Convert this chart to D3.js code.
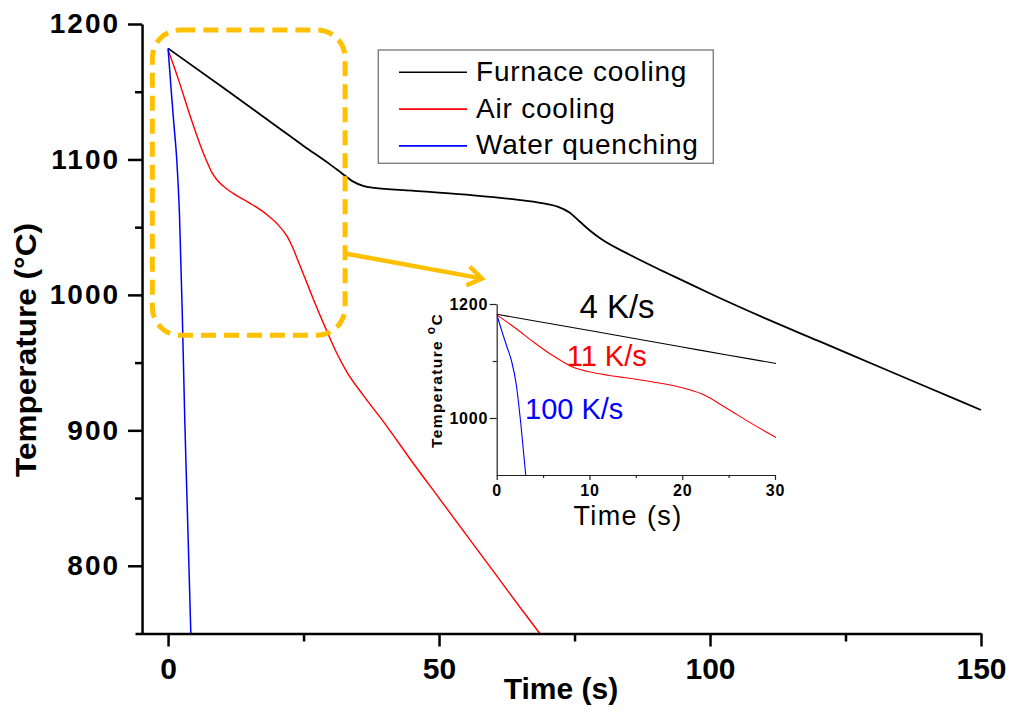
<!DOCTYPE html>
<html>
<head>
<meta charset="utf-8">
<script src="https://cdn.jsdelivr.net/npm/d3@7"></script>
<style>
  body { margin: 0; background: #fff; }
  svg { display: block; font-family: "Liberation Sans", Arial, sans-serif; }
</style>
</head>
<body>
<svg id="chart" width="1009" height="713"></svg>
<script>
// cooling curves, time (s) vs temperature (C)
var furnaceT = [0, 10, 20, 25, 30, 32, 34, 36, 38, 45, 55, 65, 70, 72, 74, 76, 78, 80, 85, 90, 95, 100, 110, 120, 130, 140, 150];
var furnaceV = [1182, 1153.5, 1124.5, 1110, 1096, 1090, 1084, 1080.5, 1079, 1077, 1074, 1070, 1067, 1065, 1061, 1054, 1047, 1041, 1030, 1020, 1010.5, 1001, 983, 966, 949, 932, 915];

var airT = [0, 2, 4, 6, 7, 8, 9, 10, 12, 15, 18, 20, 22, 23, 24, 25.5, 27, 29, 31, 33, 36, 40, 45, 50, 55, 60, 65, 68.6];
var airV = [1181, 1158, 1133, 1110, 1100, 1091, 1085, 1081, 1075, 1068, 1060, 1053, 1043, 1035, 1025, 1010, 995, 976, 958, 943, 926, 905, 877, 850, 823, 796, 769, 750];

var waterT = [0, 0.6, 1.1, 1.6, 2.1, 2.6, 3.1, 3.6, 4.2];
var waterV = [1182, 1150, 1125, 1100, 1060, 990, 905, 835, 750];

var seriesNames = ["Furnace cooling", "Air cooling", "Water quenching"];
var seriesColors = ["#000000", "#ff0000", "#0000ff"];
var seriesWidths = [1.8, 1.4, 1.5];

var xTicks = [0, 50, 100, 150];
var xMinor = [25, 75, 125];
var yTicks = [800, 900, 1000, 1100, 1200];
var yMinor = [850, 950, 1050, 1150];

// inset (zoom of first 30 s)
var insetXTicks = [0, 10, 20, 30];
var insetXMinor = [5, 15, 25];
var insetYTicks = [1000, 1200];
var insetYMinor = [1100];
var rateLabels = ["4 K/s", "11 K/s", "100 K/s"];

// highlight box and arrow, in data units of the main chart
var boxT = [-2.9, 32.66];
var boxV = [970.2, 1195.6];
var arrowT = [32.66, 57.9];
var arrowV = [1030.6, 1012.1];

var series = [
    furnaceT.map(function (t, i) { return {t: t, v: furnaceV[i]}; }),
    airT.map(function (t, i) { return {t: t, v: airV[i]}; }),
    waterT.map(function (t, i) { return {t: t, v: waterV[i]}; })
];

var fmt = d3.format("d");
var svg = d3.select("#chart");
svg.append("rect").attr("width", 1009).attr("height", 713).attr("fill", "#fff");

//---MAIN CHART
var x = d3.scaleLinear().domain([-6.1, 150]).range([135, 981]);
var y = d3.scaleLinear().domain([750, 1200]).range([633.5, 24]);
var yAxisX = x(-4.8);

var defs = svg.append("defs");
defs.append("clipPath").attr("id", "mainClip")
    .append("rect").attr("x", yAxisX).attr("y", y(1200) - 2)
    .attr("width", x(150) - yAxisX + 2).attr("height", y(750) - y(1200) + 2);

var line = d3.line()
    .curve(d3.curveMonotoneX)
    .x(function (d) { return x(d.t); })
    .y(function (d) { return y(d.v); });

var curves = svg.append("g").attr("clip-path", "url(#mainClip)");
series.forEach(function (s, i) {
    curves.append("path")
        .datum(s)
        .attr("fill", "none")
        .attr("stroke", seriesColors[i])
        .attr("stroke-width", seriesWidths[i])
        .attr("stroke-linejoin", "round")
        .attr("d", line);
});

var xAxis = svg.append("g")
    .attr("transform", "translate(0," + y(750) + ")")
    .call(d3.axisBottom(x).tickValues(xTicks).tickFormat(fmt).tickSize(13).tickSizeOuter(0).tickPadding(11));
svg.append("g")
    .attr("transform", "translate(0," + y(750) + ")")
    .call(d3.axisBottom(x).tickValues(xMinor).tickSize(8).tickFormat(""))
    .select(".domain").remove();

var yAxis = svg.append("g")
    .attr("transform", "translate(" + yAxisX + ",0)")
    .call(d3.axisLeft(y).tickValues(yTicks).tickFormat(fmt).tickSize(14).tickSizeOuter(0).tickPadding(8));
svg.append("g")
    .attr("transform", "translate(" + yAxisX + ",0)")
    .call(d3.axisLeft(y).tickValues(yMinor).tickSize(7).tickFormat(""))
    .select(".domain").remove();

svg.selectAll(".domain, .tick line").attr("stroke", "#000").attr("stroke-width", 2.5);
xAxis.selectAll("text")
    .attr("font-size", 30).attr("font-weight", "bold").attr("fill", "#000")
    .style("font-family", "'Liberation Sans', Arial, sans-serif");
yAxis.selectAll("text")
    .attr("font-size", 28).attr("font-weight", "bold").attr("fill", "#000")
    .attr("letter-spacing", 2)
    .style("font-family", "'Liberation Sans', Arial, sans-serif");

svg.append("text")
    .attr("x", 561).attr("y", 699)
    .attr("text-anchor", "middle")
    .attr("font-size", 30).attr("font-weight", "bold")
    .text("Time (s)");

svg.append("text")
    .attr("transform", "translate(36,350) rotate(-90)")
    .attr("text-anchor", "middle")
    .attr("font-size", 30).attr("font-weight", "bold")
    .attr("textLength", 254).attr("lengthAdjust", "spacingAndGlyphs")
    .text("Temperature (°C)");

// legend
var legend = svg.append("g");
legend.append("rect")
    .attr("x", 378.3).attr("y", 50).attr("width", 335).attr("height", 113.3)
    .attr("fill", "#fff").attr("stroke", "#7f7f7f").attr("stroke-width", 1.4);
seriesNames.forEach(function (name, i) {
    var ly = 72.3 + i * 36.8;
    legend.append("line")
        .attr("x1", 399).attr("x2", 467).attr("y1", ly).attr("y2", ly)
        .attr("stroke", seriesColors[i]).attr("stroke-width", 1.6);
    legend.append("text")
        .attr("x", 476).attr("y", ly + 8.5)
        .attr("font-size", 28).attr("letter-spacing", 0.8)
        .text(name);
});

// highlight box + arrow
var orange = "#ffc000";
svg.append("rect")
    .attr("x", x(boxT[0])).attr("y", y(boxV[1]))
    .attr("width", x(boxT[1]) - x(boxT[0])).attr("height", y(boxV[0]) - y(boxV[1]))
    .attr("rx", 28).attr("ry", 28)
    .attr("fill", "none").attr("stroke", orange).attr("stroke-width", 5)
    .attr("stroke-dasharray", "15,8");

var ax0 = x(arrowT[0]), ay0 = y(arrowV[0]), ax1 = x(arrowT[1]), ay1 = y(arrowV[1]);
var ang = Math.atan2(ay1 - ay0, ax1 - ax0);
var headLen = 17, headAng = 0.6;
svg.append("line")
    .attr("x1", ax0).attr("y1", ay0).attr("x2", ax1 - 2 * Math.cos(ang)).attr("y2", ay1 - 2 * Math.sin(ang))
    .attr("stroke", orange).attr("stroke-width", 4.5);
svg.append("polyline")
    .attr("points", [
        [ax1 - headLen * Math.cos(ang - headAng), ay1 - headLen * Math.sin(ang - headAng)],
        [ax1, ay1],
        [ax1 - headLen * Math.cos(ang + headAng), ay1 - headLen * Math.sin(ang + headAng)]
    ].map(function (p) { return p.join(","); }).join(" "))
    .attr("fill", "none").attr("stroke", orange).attr("stroke-width", 4.5)
    .attr("stroke-linejoin", "miter");

//---INSET
var ix = d3.scaleLinear().domain([0, 30]).range([496.7, 775]);
var iy = d3.scaleLinear().domain([900, 1200]).range([475, 304]);

defs.append("clipPath").attr("id", "insetClip")
    .append("rect").attr("x", ix(0)).attr("y", iy(1200) - 2)
    .attr("width", ix(30) - ix(0) + 1).attr("height", iy(900) - iy(1200) + 2);

var iline = d3.line()
    .curve(d3.curveMonotoneX)
    .x(function (d) { return ix(d.t); })
    .y(function (d) { return iy(d.v); });

var inset = svg.append("g");
var icurves = inset.append("g").attr("clip-path", "url(#insetClip)");
series.forEach(function (s, i) {
    icurves.append("path")
        .datum(s.filter(function (d) { return d.t <= 32; }))
        .attr("fill", "none")
        .attr("stroke", seriesColors[i])
        .attr("stroke-width", 1.1)
        .attr("d", iline);
});

inset.append("g")
    .attr("transform", "translate(0," + iy(900) + ")")
    .call(d3.axisBottom(ix).tickValues(insetXTicks).tickFormat(fmt).tickSize(5).tickSizeOuter(0).tickPadding(4.5));
inset.append("g")
    .attr("transform", "translate(0," + iy(900) + ")")
    .call(d3.axisBottom(ix).tickValues(insetXMinor).tickSize(3).tickFormat(""))
    .select(".domain").remove();
inset.append("g")
    .attr("transform", "translate(" + ix(0) + ",0)")
    .call(d3.axisLeft(iy).tickValues(insetYTicks).tickFormat(fmt).tickSize(7).tickSizeOuter(0).tickPadding(1.5));
inset.append("g")
    .attr("transform", "translate(" + ix(0) + ",0)")
    .call(d3.axisLeft(iy).tickValues(insetYMinor).tickSize(4).tickFormat(""))
    .select(".domain").remove();

inset.selectAll(".domain, .tick line").attr("stroke", "#222").attr("stroke-width", 1.2);
inset.selectAll(".tick text")
    .attr("font-size", 16).attr("font-weight", "bold").attr("fill", "#000")
    .attr("letter-spacing", 0.8)
    .style("font-family", "'Liberation Sans', Arial, sans-serif");

inset.append("text")
    .attr("x", 628).attr("y", 525)
    .attr("text-anchor", "middle")
    .attr("font-size", 27).attr("letter-spacing", 1.4)
    .text("Time (s)");

var iyLabel = inset.append("text")
    .attr("transform", "translate(441.5,448) rotate(-90)")
    .attr("font-size", 15.5).attr("font-weight", "bold").attr("letter-spacing", 1.4);
iyLabel.append("tspan").text("Temperature ");
iyLabel.append("tspan").attr("font-size", 12).attr("dy", -7).text("o");
iyLabel.append("tspan").attr("dy", 7).text("C");

inset.append("text")
    .attr("x", 617).attr("y", 318).attr("text-anchor", "middle")
    .attr("font-size", 33).attr("fill", seriesColors[0])
    .text(rateLabels[0]);
inset.append("text")
    .attr("x", 566.7).attr("y", 366)
    .attr("font-size", 29).attr("fill", seriesColors[1])
    .text(rateLabels[1]);
inset.append("text")
    .attr("x", 525).attr("y", 419)
    .attr("font-size", 29).attr("fill", seriesColors[2])
    .text(rateLabels[2]);
</script>
</body>
</html>
